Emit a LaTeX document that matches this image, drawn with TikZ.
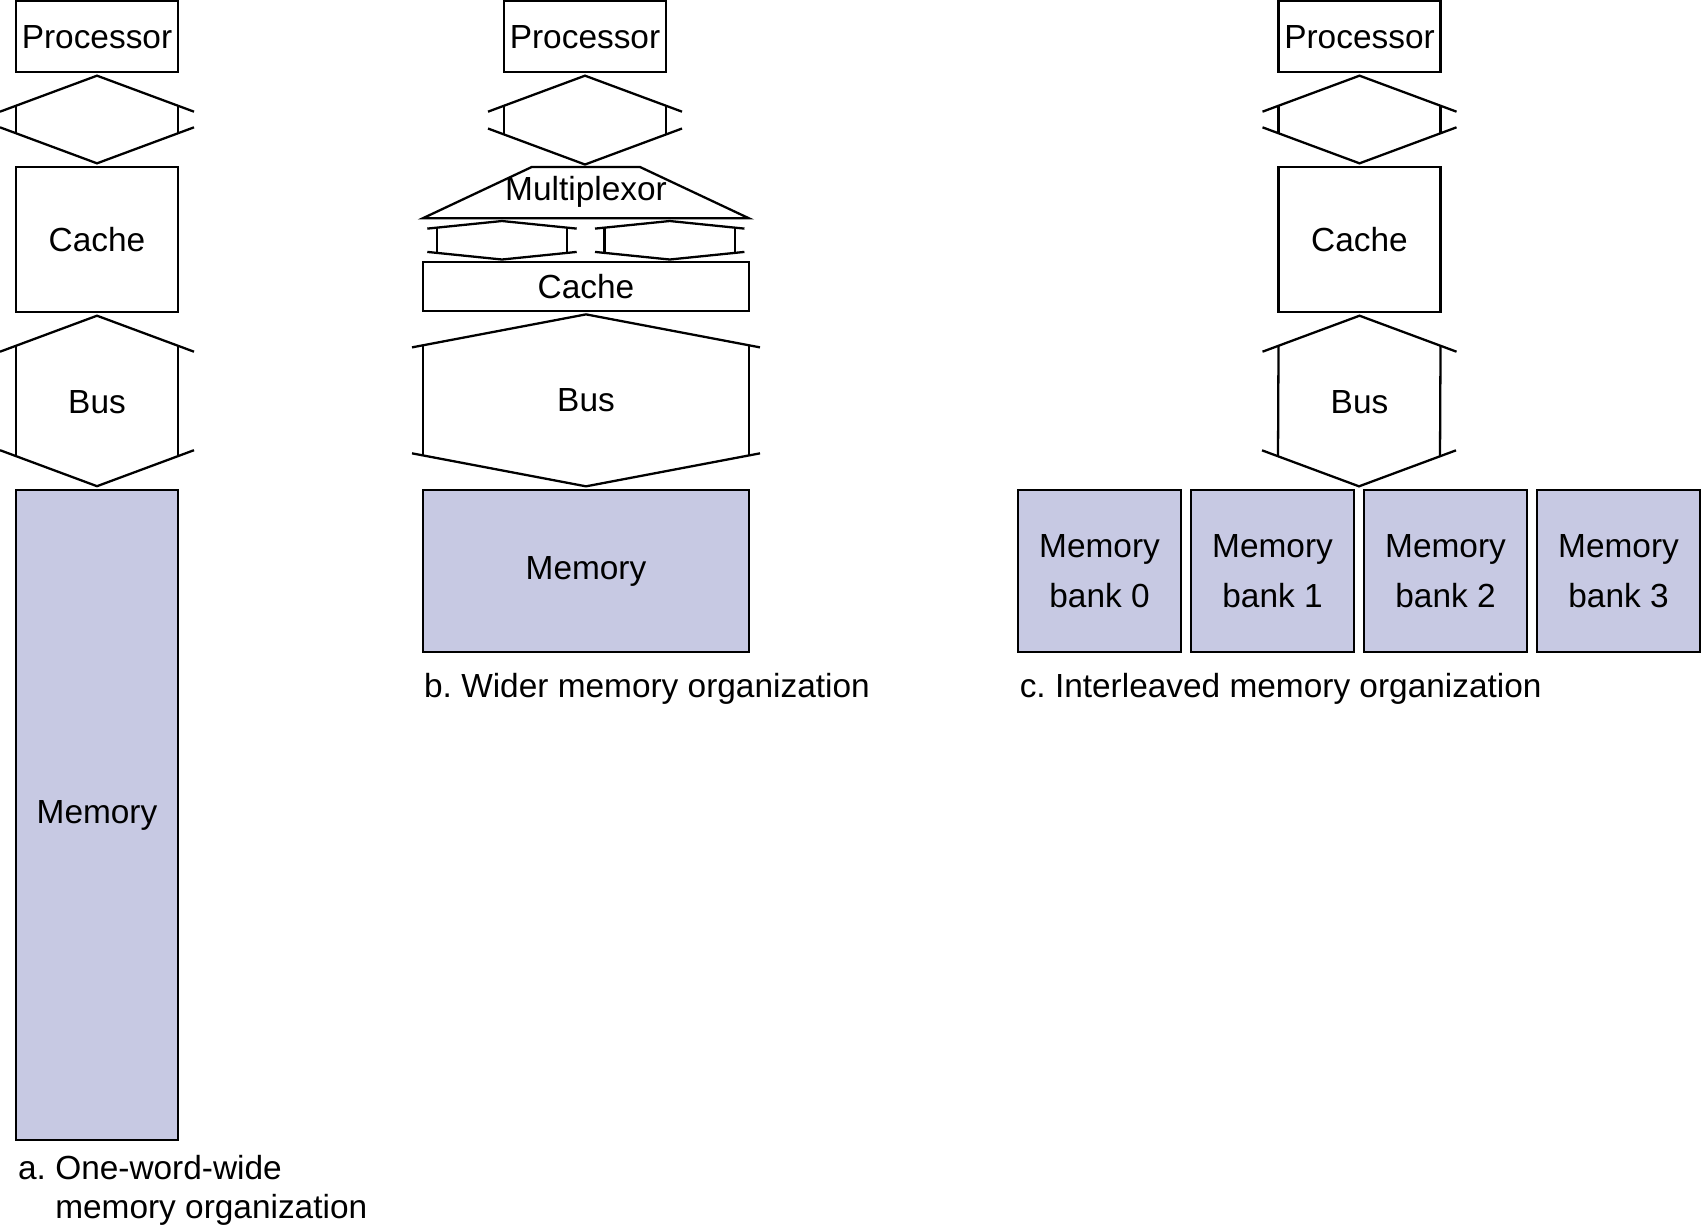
\documentclass[tikz,border=0pt]{standalone}
\usepackage{fontspec}
\setmainfont{Liberation Sans}
\frenchspacing
\usetikzlibrary{calc}
\definecolor{memfill}{RGB}{199,201,227}
\tikzset{
	every path/.style={line width=0.65pt},
	box/.style={
		draw,
		rectangle,
		inner sep=0pt,
		minimum width=1.62cm,
	},
	proc/.style={
		box,
		minimum height=0.71cm,
		text depth=0pt,
	},
	mem/.style={
		box,
		fill=memfill,
	},
	bank/.style={
		mem,
		align=center,
		minimum width=1.63cm,
		minimum height=1.62cm,
		font=\fontsize{9.5}{14.2}\selectfont,
	},
	caption/.style={
		anchor=west,
		inner sep=0pt,
		align=left,
	},
}
% double headed bus between two anchors: outer half width, inner half width, head height
\newcommand{\buslink}[5]{%
	\draw ($(#1)+(-#3,#5+2.5)$) -- ($(#1)+(0,2.5)$) -- ($(#1)+(#3,#5+2.5)$);
	\draw ($(#2)+(-#3,-#5-2.5)$) -- ($(#2)+(0,-2.5)$) -- ($(#2)+(#3,-#5-2.5)$);
	\draw ($(#1)+(-#4,{2.5+#5*#4/#3})$) -- ($(#2)+(-#4,{-2.5-#5*#4/#3})$);
	\draw ($(#1)+(#4,{2.5+#5*#4/#3})$) -- ($(#2)+(#4,{-2.5-#5*#4/#3})$);
}

\begin{document}
\begin{tikzpicture}[
		x=0.01cm,
		y=-0.01cm,
		font=\fontsize{9.5}{11.1}\selectfont,
	]
		\useasboundingbox (0,0) rectangle (1701,1226);

		% a. one-word-wide
		\node[proc]              (procA) at (97,36.5) {Processor};
		\node[box, minimum height=1.45cm] (cacheA) at (97,239.5) {Cache};
		\node[mem, minimum height=6.5cm]  (memA) at (97,815) {Memory};
		\node                    (busA) at (97,402) {Bus};
		\node[caption]           (capA) at (17,1190) {a. One-word-wide\\\phantom{a.\ }memory organization};

		\buslink{procA.south}{cacheA.north}{97}{81}{36}
		\buslink{cacheA.south}{memA.north}{97}{81}{36}

		% b. wider
		\node[proc]              (procB) at (585,36.5) {Processor};
		\node                    (mux) at (586,192) {Multiplexor};
		\node[box, minimum width=3.26cm, minimum height=0.484cm] (cacheB) at (586,286.5) {Cache};
		\node[mem, minimum width=3.26cm, minimum height=1.62cm]  (memB) at (586,571) {Memory};
		\node                    (busB) at (586,400) {Bus};
		\node[caption]           (capB) at (423,689) {b. Wider memory organization};

		\draw (531.7,167) -- (640,167) -- (749,218.3) -- (422.7,218.3) -- cycle;
		\coordinate (muxtop) at (585,167);
		\coordinate (muxl) at (502,218.5);
		\coordinate (muxr) at (669.7,218.5);
		\coordinate (cachel) at (502,262);
		\coordinate (cacher) at (669.7,262);

		\buslink{procB.south}{muxtop}{97}{81}{36}
		\buslink{muxl}{cachel}{74.7}{65.3}{7.6}
		\buslink{muxr}{cacher}{74.7}{65.3}{7.6}
		\buslink{cacheB.south}{memB.north}{174}{163}{33}

		% c. interleaved
		\node[proc]              (procC) at (1359.5,36.5) {Processor};
		\node[box, minimum height=1.45cm] (cacheC) at (1359.5,239.5) {Cache};
		\node                    (busC) at (1359.5,402) {Bus};
		\foreach \i in {0,...,3}
			\node[bank] (bank\i) at ({1099.5+173*\i},571) {Memory\\bank \i};
		\node[caption]           (capC) at (1018.6,689) {c. Interleaved memory organization};

		\coordinate (banktop) at ($(bank1.north east)!0.5!(bank2.north west)$);

		\buslink{procC.south}{cacheC.north}{97}{81}{36}
		\buslink{cacheC.south}{banktop}{97}{81}{36}
	\end{tikzpicture}
\end{document}
